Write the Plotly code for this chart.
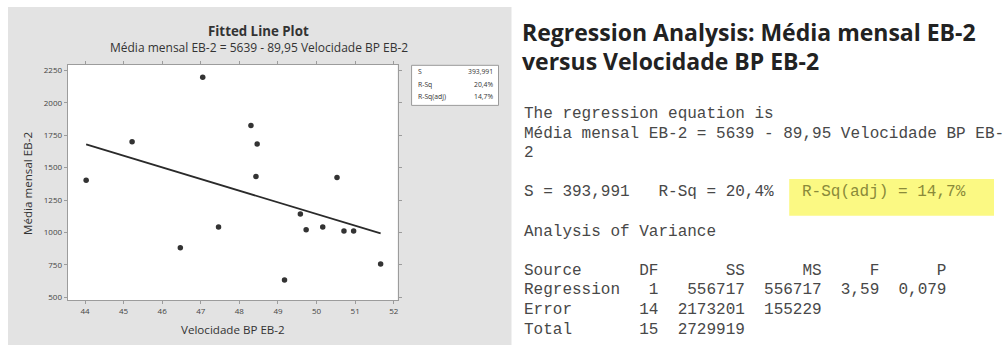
import plotly.graph_objects as go

W, H = 1005, 347

# Observations
velocidade = [44.03, 45.22, 47.05, 46.47, 47.46, 48.30, 48.46, 48.43,
              49.17, 49.58, 49.73, 50.16, 50.53, 50.71, 50.96, 51.66]
media_mensal = [1403, 1700, 2196, 882, 1041, 1825, 1682, 1432,
                634, 1143, 1020, 1041, 1424, 1012, 1012, 757]

# Fitted model
intercept = 5639
slope = -89.95
s_value = 393.991
r_sq = 20.4
r_sq_adj = 14.7

# Analysis of variance table
anova_source = ["Regression", "Error", "Total"]
anova_df = [1, 14, 15]
anova_ss = [556717, 2173201, 2729919]
anova_ms = [556717, 155229, None]
f_value = 3.59
p_value = 0.079

x_ticks = [44, 45, 46, 47, 48, 49, 50, 51, 52]
y_ticks = [500, 750, 1000, 1250, 1500, 1750, 2000, 2250]


def br(v, fmt):
    return format(v, fmt).replace(".", ",")


def px(x):
    return x / W


def py(y):
    return 1 - y / H


fit_x = [min(velocidade), max(velocidade)]
fit_y = [intercept + slope * v for v in fit_x]

fig = go.Figure()
fig.add_trace(go.Scatter(x=fit_x, y=fit_y, mode="lines",
                         line=dict(color="#2a2a2a", width=1.8),
                         hoverinfo="skip", showlegend=False))
fig.add_trace(go.Scatter(x=velocidade, y=media_mensal, mode="markers",
                         marker=dict(color="#333333", size=5.5),
                         showlegend=False))

sans = "Open Sans"
mono = "Liberation Mono"

shapes = [
    # grey graph panel
    dict(type="rect", xref="paper", yref="paper", x0=px(8), x1=px(512),
         y0=0, y1=py(7), fillcolor="#e3e3e3", line=dict(width=0), layer="below"),
    # white data region
    dict(type="rect", xref="paper", yref="paper", x0=px(67.7), x1=px(398),
         y0=py(302), y1=py(65), fillcolor="white", line=dict(width=0), layer="below"),
    # statistics box
    dict(type="rect", xref="paper", yref="paper", x0=px(412), x1=px(499),
         y0=py(106), y1=py(65.7), fillcolor="white",
         line=dict(color="#9a9a9a", width=1), layer="below"),
    # highlighted R-Sq(adj)
    dict(type="rect", xref="paper", yref="paper", x0=px(790), x1=px(995),
         y0=py(217), y1=py(180), fillcolor="#fbf983", line=dict(width=0), layer="below"),
]

ann = []


def text(x, y, s, size, color="#333333", family=sans, anchor="left", bold=False, angle=0):
    if bold:
        s = "<b>" + s + "</b>"
    ann.append(dict(x=px(x), y=py(y), xref="paper", yref="paper", text=s,
                    showarrow=False, xanchor=anchor, yanchor="middle",
                    textangle=angle,
                    font=dict(family=family, size=size, color=color)))


# graph titles
text(259, 31, "Fitted Line Plot", 13.3, "#333333", anchor="center", bold=True)
text(259, 48, f"Média mensal EB-2 = {intercept} - {br(-slope, '.2f')} Velocidade BP EB-2",
     12, "#333333", anchor="center")
text(233, 331, "Velocidade BP EB-2", 11.6, "#333333", anchor="center")
text(28, 184, "Média mensal EB-2", 11.6, "#333333", anchor="center", angle=-90)

# statistics box
stat_rows = [("S", br(s_value, ".3f")), ("R-Sq", br(r_sq, ".1f") + "%"),
             ("R-Sq(adj)", br(r_sq_adj, ".1f") + "%")]
for i, (lab, val) in enumerate(stat_rows):
    yy = 72 + i * 12.6
    text(416, yy, lab, 6.8, "#333333")
    text(495, yy, val, 6.8, "#333333", anchor="right")

# session output
text(521, 32, "Regression Analysis: Média mensal EB-2", 23, "#222222", bold=True)
text(521, 61, "versus Velocidade BP EB-2", 23, "#222222", bold=True)

eq_line = f"Média mensal EB-2 = {intercept} - {br(-slope, '.2f')} Velocidade BP EB-"
s_part = f"S = {br(s_value, '.3f')}   R-Sq = {br(r_sq, '.1f')}%   "
adj_part = f"R-Sq(adj) = {br(r_sq_adj, '.1f')}%"

header = f"{'Source':<10}{'DF':>4}{'SS':>9}{'MS':>8}{'F':>6}{'P':>7}"
rows = []
for i, src in enumerate(anova_source):
    line = f"{src:<10}{anova_df[i]:>4}{anova_ss[i]:>9}"
    if anova_ms[i] is not None:
        line += f"{anova_ms[i]:>8}"
    if i == 0:
        line += f"{br(f_value, '.2f'):>6}{br(p_value, '.3f'):>7}"
    rows.append(line)


def nb(s):
    return s.replace(" ", "\u00a0")


mono_lines = [
    (115, "The regression equation is"),
    (135, eq_line),
    (154, "2"),
    (233, "Analysis of Variance"),
    (273, header),
    (292, rows[0]),
    (312, rows[1]),
    (332, rows[2]),
]
for yy, s in mono_lines:
    text(522.7, yy, nb(s), 16, "#484848", family=mono)
text(522.7, 193, nb(s_part), 16, "#484848", family=mono)
text(522.7 + 9.6 * len(s_part), 193, nb(adj_part), 16, "#8a8a3a", family=mono)

axis_common = dict(showline=True, linecolor="#9c9c9c", linewidth=1, mirror="ticks",
                   ticks="outside", ticklen=3, tickcolor="#9c9c9c",
                   showgrid=False, zeroline=False,
                   tickfont=dict(family=sans, size=8, color="#444444"))

fig.update_layout(
    width=W, height=H, autosize=False,
    margin=dict(l=0, r=0, t=0, b=0),
    paper_bgcolor="white", plot_bgcolor="rgba(0,0,0,0)",
    xaxis=dict(domain=[px(67.7), px(398)], range=[43.55, 52.1],
               tickvals=x_ticks, **axis_common),
    yaxis=dict(domain=[py(302), py(65)], range=[477, 2294],
               tickvals=y_ticks, tickformat="d", **axis_common),
    shapes=shapes, annotations=ann, showlegend=False,
)

fig.write_html("out.html")
